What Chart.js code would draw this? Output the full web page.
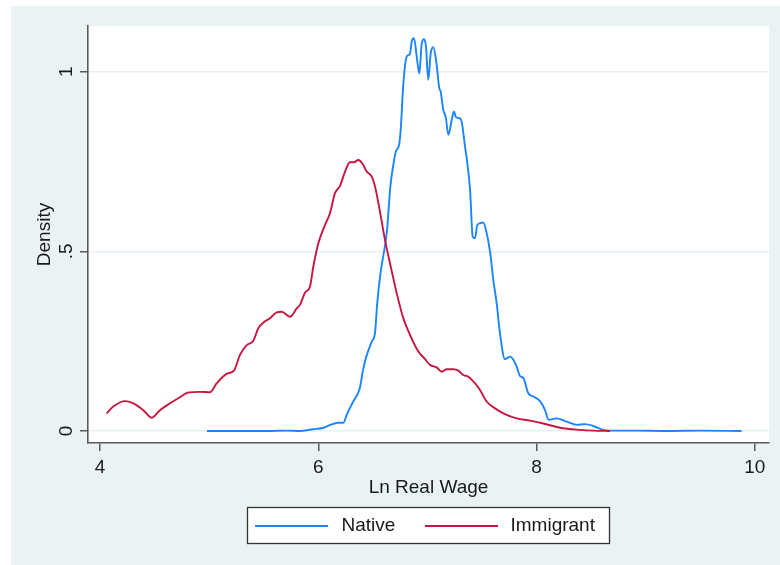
<!DOCTYPE html>
<html>
<head>
<meta charset="utf-8">
<script src="https://cdn.jsdelivr.net/npm/chart.js@4.4.1/dist/chart.umd.min.js"></script>
<style>
  html, body { margin: 0; padding: 0; background: #ffffff; }
  #wrap { width: 780px; height: 565px; }
</style>
</head>
<body>
<div id="wrap"><canvas id="densityChart" width="780" height="565"></canvas></div>
<script>
// kernel density of log real wage
const nativeX = [4.98, 5.13, 5.34, 5.53, 5.71, 5.83, 5.95, 6.05, 6.11, 6.18, 6.23, 6.26, 6.32, 6.38, 6.41, 6.44, 6.49, 6.52, 6.54, 6.57,
  6.63, 6.66, 6.69, 6.71, 6.74, 6.755, 6.78, 6.81, 6.84, 6.856, 6.877, 6.902, 6.926, 6.948, 6.969, 6.987, 7.008, 7.03, 7.054, 7.079,
  7.109, 7.122, 7.146, 7.168, 7.192, 7.223, 7.244, 7.262, 7.299, 7.314, 7.345, 7.366, 7.391, 7.415, 7.436, 7.457, 7.482, 7.512, 7.537, 7.574,
  7.604, 7.635, 7.665, 7.711, 7.757, 7.788, 7.818, 7.849, 7.88, 7.925, 7.971, 8.032, 8.078, 8.112, 8.185, 8.277, 8.368, 8.444, 8.52, 8.612,
  8.674, 8.9, 9.2, 9.5, 9.88]
const nativeY = [0, 0, 0, 0, 0.001, 0, 0.005, 0.009, 0.017, 0.023, 0.023, 0.045, 0.082, 0.119, 0.17, 0.207, 0.249, 0.274, 0.355, 0.439,
  0.559, 0.68, 0.745, 0.777, 0.796, 0.838, 0.968, 1.042, 1.049, 1.084, 1.093, 1.042, 0.995, 1.079, 1.09, 1.07, 0.977, 1.051, 1.068, 1.033,
  0.954, 0.944, 0.893, 0.873, 0.824, 0.866, 0.889, 0.873, 0.87, 0.861, 0.791, 0.745, 0.671, 0.541, 0.536, 0.573, 0.578, 0.58, 0.559, 0.499,
  0.42, 0.355, 0.272, 0.2, 0.207, 0.198, 0.179, 0.153, 0.147, 0.105, 0.096, 0.083, 0.058, 0.031, 0.035, 0.026, 0.017, 0.019, 0.014, 0.003,
  0.001, 0.001, 0, 0.001, 0]

const immigrantX = [4.06, 4.121, 4.228, 4.304, 4.396, 4.473, 4.549, 4.641, 4.732, 4.808, 4.916, 5.007, 5.069, 5.16, 5.227, 5.282, 5.344, 5.404, 5.45, 5.49,
  5.557, 5.619, 5.664, 5.741, 5.802, 5.832, 5.878, 5.924, 5.954, 6.0, 6.061, 6.107, 6.153, 6.199, 6.245, 6.29, 6.327, 6.367, 6.407, 6.443,
  6.49, 6.52, 6.551, 6.611, 6.657, 6.719, 6.779, 6.841, 6.917, 6.978, 7.024, 7.085, 7.131, 7.177, 7.238, 7.283, 7.329, 7.375, 7.436, 7.482,
  7.543, 7.62, 7.711, 7.818, 7.94, 8.062, 8.215, 8.399, 8.52, 8.674]
const immigrantY = [0.049, 0.068, 0.083, 0.077, 0.058, 0.037, 0.058, 0.077, 0.094, 0.107, 0.109, 0.108, 0.133, 0.159, 0.168, 0.212, 0.239, 0.251, 0.286, 0.3,
  0.314, 0.33, 0.332, 0.318, 0.341, 0.351, 0.385, 0.402, 0.457, 0.522, 0.573, 0.606, 0.662, 0.682, 0.722, 0.748, 0.748, 0.754, 0.743, 0.722,
  0.708, 0.68, 0.634, 0.532, 0.467, 0.383, 0.314, 0.267, 0.221, 0.2, 0.184, 0.177, 0.165, 0.172, 0.172, 0.168, 0.156, 0.151, 0.133, 0.114,
  0.082, 0.063, 0.047, 0.035, 0.029, 0.021, 0.009, 0.003, 0.001, 0]

const xTicks = [4, 6, 8, 10]
const yTicks = [0, 0.5, 1]
const yTickLabels = ['0', '.5', '1']

const FONT = '"Liberation Sans", Arial, sans-serif'
const INK = '#1a1a1a'
const AXIS = '#5a5a5a'
const REGION = '#eaf2f3'

Chart.defaults.font.family = FONT
Chart.defaults.color = INK

const toPoints = (xs, ys) => xs.map((x, i) => ({x: x, y: ys[i]}))

// stata-like graph region: light frame, white plot area
const regionBg = {
    id: 'regionBg',
    beforeDraw(chart) {
        const {ctx, chartArea: {top, bottom, left, right}} = chart
        ctx.save()
        ctx.fillStyle = '#ffffff'
        ctx.fillRect(0, 0, chart.width, chart.height)
        ctx.fillStyle = REGION
        ctx.fillRect(11, 6, chart.width - 11, chart.height - 6)
        ctx.fillStyle = '#ffffff'
        ctx.fillRect(left, top, right - left, bottom - top)
        ctx.restore()
    }
}

// boxed legend under the axis title
const boxLegend = {
    id: 'boxLegend',
    afterDraw(chart) {
        const ctx = chart.ctx
        const sets = chart.data.datasets
        ctx.save()
        ctx.fillStyle = '#ffffff'
        ctx.fillRect(247.5, 507.5, 362, 36)
        ctx.strokeStyle = '#333333'
        ctx.lineWidth = 1.3
        ctx.strokeRect(247.5, 507.5, 362, 36)
        const slots = [{line: 255, text: 341.5}, {line: 425, text: 510.5}]
        ctx.font = '19px ' + FONT
        ctx.textBaseline = 'middle'
        ctx.textAlign = 'left'
        sets.forEach((ds, i) => {
            const s = slots[i]
            ctx.strokeStyle = ds.borderColor
            ctx.lineWidth = 2
            ctx.beginPath()
            ctx.moveTo(s.line, 526)
            ctx.lineTo(s.line + 73, 526)
            ctx.stroke()
            ctx.fillStyle = INK
            ctx.fillText(ds.label, s.text, 526)
        })
        ctx.restore()
    }
}

const chart = new Chart(document.getElementById('densityChart'), {
    type: 'line',
    data: {
        datasets: [{
            label: 'Native',
            data: toPoints(nativeX, nativeY),
            borderColor: '#1a85ff',
            borderWidth: 1.9,
            pointRadius: 0,
            cubicInterpolationMode: 'monotone',
            fill: false,
            order: 2
        },
        {
            label: 'Immigrant',
            data: toPoints(immigrantX, immigrantY),
            borderColor: '#c8163f',
            borderWidth: 1.9,
            pointRadius: 0,
            cubicInterpolationMode: 'monotone',
            fill: false,
            order: 1
        }]
    },
    options: {
        responsive: false,
        animation: false,
        layout: {
            padding: {left: 0, top: 26, right: 11, bottom: 0}
        },
        plugins: {
            legend: {display: false},
            tooltip: {enabled: false}
        },
        scales: {
            x: {
                type: 'linear',
                min: 3.889,
                max: 10.131,
                afterBuildTicks(scale) {
                    scale.ticks = xTicks.map(v => ({value: v}))
                },
                afterFit(scale) {
                    scale.height = 122
                },
                ticks: {
                    autoSkip: false,
                    maxRotation: 0,
                    padding: 5,
                    color: INK,
                    font: {size: 19},
                    callback: v => String(v)
                },
                grid: {
                    drawOnChartArea: false,
                    drawTicks: true,
                    tickLength: 8,
                    tickColor: AXIS,
                    lineWidth: 1.5
                },
                border: {display: true, color: AXIS, width: 1.6},
                title: {
                    display: true,
                    text: 'Ln Real Wage',
                    color: INK,
                    font: {size: 19},
                    padding: {top: 0, bottom: 66}
                }
            },
            y: {
                type: 'linear',
                min: -0.0334,
                max: 1.127,
                afterBuildTicks(scale) {
                    scale.ticks = yTicks.map(v => ({value: v}))
                },
                afterFit(scale) {
                    scale.width = 88
                },
                ticks: {
                    autoSkip: false,
                    minRotation: 90,
                    maxRotation: 90,
                    crossAlign: 'center',
                    padding: 5,
                    color: INK,
                    font: {size: 19},
                    callback: (v, i) => yTickLabels[i]
                },
                grid: {
                    color: '#e6eff1',
                    lineWidth: 1.5,
                    drawTicks: true,
                    tickLength: 8,
                    tickColor: AXIS
                },
                border: {display: true, color: AXIS, width: 1.6},
                title: {
                    display: true,
                    text: 'Density',
                    color: INK,
                    font: {size: 19},
                    padding: {top: 33, bottom: 0}
                }
            }
        }
    },
    plugins: [regionBg, boxLegend]
})
</script>
</body>
</html>
